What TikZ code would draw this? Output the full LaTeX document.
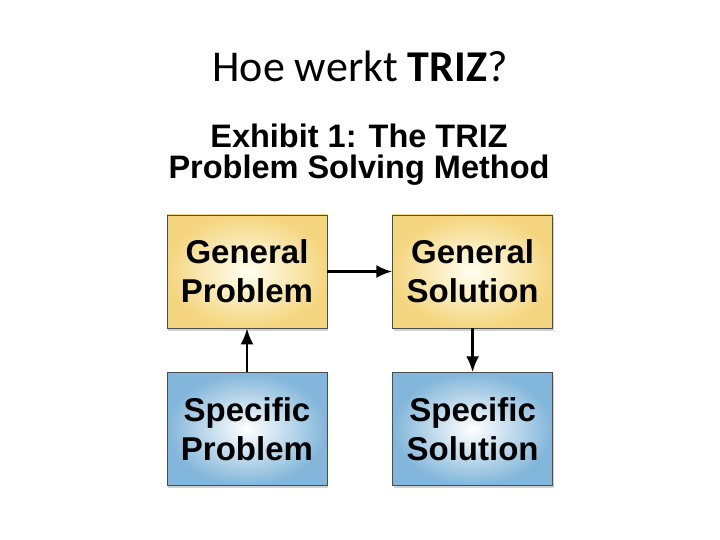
\documentclass[tikz,border=0pt]{standalone}
\usepackage{fontspec}
\setmainfont{Carlito}
\newfontfamily\helv{Liberation Sans}
\usepackage{tikz}
\usetikzlibrary{positioning,shadows,arrows.meta}

\begin{document}
\begin{tikzpicture}[x=1pt,y=1pt,
	box/.style={draw=black!70, line width=0.6pt, minimum width=160pt, minimum height=113pt, align=center,
		font=\helv\bfseries\fontsize{33}{39}\selectfont, drop shadow={opacity=0.35, shadow xshift=1pt, shadow yshift=-2.5pt}},
	gen/.style={box, inner color=yellow!6, outer color={rgb,255:red,245;green,214;blue,128}},
	spec/.style={box, inner color=white, outer color={rgb,255:red,130;green,182;blue,218}},
	pijl/.style={-{Latex[length=16pt,width=13pt]}, line width=2.6pt}]
	\useasboundingbox (0,0) rectangle (720,-540);
	\node (titel) at (360,-66) {\fontsize{44}{52}\selectfont Hoe werkt \textbf{TRIZ}?};
	\node (kop) at (359,-155) [align=center, font=\helv\bfseries\fontsize{32.5}{31}\selectfont] {Exhibit 1: The TRIZ\\Problem Solving Method};

	\node (gp) at (247,-271.5) [gen] {General\\Problem};
	\node (gs) [gen, right=65pt of gp] {General\\Solution};
	\node (sp) [spec, below=44pt of gp] {Specific\\Problem};
	\node (ss) [spec, below=44pt of gs] {Specific\\Solution};

	\draw[pijl] (gp) -- (gs);
	\draw[pijl] (sp) -- (gp);
	\draw[pijl] (gs) -- (ss);
\end{tikzpicture}
\end{document}
